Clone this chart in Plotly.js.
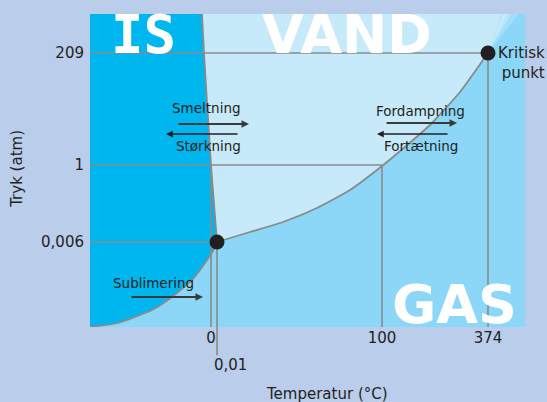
<!DOCTYPE html>
<html><head><meta charset="utf-8">
<script src="https://cdn.plot.ly/plotly-3.0.1.min.js"></script>
<style>html,body{margin:0;padding:0;background:#BACDEA;}#chart{width:547px;height:402px;}</style>
</head><body><div id="chart"></div>
<script>
// Schematic phase diagram of water (not to scale) – positions in schematic units
const tempTickPos = [121, 292, 398];
const tempTickText = ["0", "100", "374"];
const tripleTempText = "0,01";
const pressTickPos = [85, 162, 274];
const pressTickText = ["0,006", "1", "209"];

const tripleX = [127], tripleY = [85];
const criticalX = [398], criticalY = [274];

// smeltekurve (triple point -> top)
const meltX = [127, 121, 114, 112];
const meltY = [85, 162, 274, 313];
// sublimationskurve (origin -> triple point)
const sublX = [0, 28, 62, 82, 102, 115, 125, 127];
const sublY = [0, 4, 17, 30, 47, 64, 80, 85];
// fordampningskurve (triple point -> critical point)
const vapX = [127, 160, 193, 227, 260, 292, 330, 342, 370, 398];
const vapY = [85, 95, 105, 119, 137, 161, 193, 204, 235, 274];
// beyond critical point
const superX = [398, 411];
const superY = [274, 313];

const regionLabels = ["IS", "VAND", "GAS"];
const processLabels = ["Smeltning", "Størkning", "Fordampning", "Fortætning", "Sublimering"];

const XR = [0, 435], YR = [0, 313];
const ink = '#231F20', grey = '#8A8A8A';
const ICE = '#00B6EF', WATER = '#C7EAFA', GAS = '#8CD6F7';

const rev = a => a.slice().reverse();

const traces = [];
// ice region
traces.push({x: [0].concat(rev(meltX), rev(sublX)), y: [YR[1]].concat(rev(meltY), rev(sublY)),
  fill: 'toself', fillcolor: ICE, mode: 'lines', line: {width: 0}, hoverinfo: 'skip', showlegend: false});
// water region
traces.push({x: meltX.concat([superX[1]], rev(superX), rev(vapX)), y: meltY.concat([YR[1]], rev(superY), rev(vapY)),
  fill: 'toself', fillcolor: WATER, mode: 'lines', line: {width: 0}, hoverinfo: 'skip', showlegend: false});
// soft glow beyond the critical point
[[0, 18, 0.2], [0, 10, 0.22], [2, 6, 0.2]].forEach(g => traces.push({x: [superX[0], superX[1] + g[0], superX[1] + g[1]], y: [superY[0], YR[1], YR[1]],
  fill: 'toself', fillcolor: 'rgba(255,255,255,' + g[2] + ')', mode: 'lines', line: {width: 0}, hoverinfo: 'skip', showlegend: false}));

const gl = {color: grey, width: 1.6};
// reference lines: horizontal at pressure ticks
const hEnd = [tripleX[0], tempTickPos[1], criticalX[0]];
pressTickPos.forEach((p, i) => traces.push({x: [XR[0], hEnd[i]], y: [p, p], mode: 'lines', line: gl, hoverinfo: 'skip', showlegend: false}));
// vertical at temperature ticks
const vEnd = [pressTickPos[1], pressTickPos[1], criticalY[0]];
tempTickPos.forEach((t, i) => traces.push({x: [t, t], y: [YR[0], vEnd[i]], mode: 'lines', line: gl, hoverinfo: 'skip', showlegend: false}));
// phase boundaries
[[meltX, meltY], [sublX, sublY], [vapX, vapY]].forEach(c => traces.push({x: c[0], y: c[1], mode: 'lines', line: {color: grey, width: 1.8, shape: 'spline', smoothing: 0.5}, hoverinfo: 'skip', showlegend: false}));
// triple & critical points
traces.push({x: tripleX.concat(criticalX), y: tripleY.concat(criticalY), mode: 'markers', marker: {size: 15, color: ink}, cliponaxis: false, hoverinfo: 'skip', showlegend: false});

const txt = (s, x, y, extra) => Object.assign({text: s, x: x, y: y, xref: 'x', yref: 'y', showarrow: false, font: {family: 'DejaVu Sans', size: 13.5, color: ink}}, extra || {});
const arrow = (x0, x1, y, w, c, sz) => ({x: x1, y: y, ax: x0, ay: y, xref: 'x', yref: 'y', axref: 'x', ayref: 'y', text: '', showarrow: true, arrowhead: 2, arrowsize: sz, arrowwidth: w, arrowcolor: c, standoff: 0, startstandoff: 0});

const big = {family: 'DejaVu Sans', size: 54, color: '#FFFFFF', weight: 'bold'};
const annotations = [
  txt(regionLabels[0], 53, 293, {font: Object.assign({}, big, {family: 'DejaVu Sans Mono'})}),
  txt(regionLabels[1], 257, 293, {font: big}),
  txt(regionLabels[2], 364, 23, {font: big}),
  txt(processLabels[0], 116, 219),
  txt(processLabels[1], 118, 181),
  txt(processLabels[2], 330, 216),
  txt(processLabels[3], 331, 181),
  txt(processLabels[4], 63, 44),
  arrow(87, 159, 203, 2, '#3A3A3A', 0.75),
  arrow(149, 76, 193, 1.5, ink, 0.9),
  arrow(295, 367, 204, 2, '#3A3A3A', 0.75),
  arrow(359, 287, 193, 1.5, ink, 0.9),
  arrow(40, 113, 30, 2, '#3A3A3A', 0.75),
  {text: 'Kritisk<br>punkt', xref: 'paper', yref: 'y', x: 1.05, y: 264, xanchor: 'right', align: 'right', showarrow: false, font: {family: 'DejaVu Sans', size: 15, color: ink}},
  {text: tripleTempText, xref: 'x', yref: 'paper', x: tripleX[0] - 5, y: -0.122, xanchor: 'left', yanchor: 'middle', showarrow: false, font: {family: 'DejaVu Sans', size: 15, color: ink}},
  {text: 'Temperatur (°C)', xref: 'paper', yref: 'paper', x: 0.544, y: -0.215, xanchor: 'center', yanchor: 'middle', showarrow: false, font: {family: 'DejaVu Sans', size: 15, color: ink}},
  {text: 'Tryk (atm)', xref: 'paper', yref: 'paper', x: -0.168, y: 0.505, xanchor: 'center', yanchor: 'middle', textangle: -90, showarrow: false, font: {family: 'DejaVu Sans', size: 15, color: ink}}
];

const shapes = [{type: 'line', xref: 'x', yref: 'paper', x0: tripleX[0], x1: tripleX[0], y0: -0.09, y1: tripleY[0] / YR[1], line: {color: grey, width: 1.6}, layer: 'below'}];

const axBase = {showgrid: false, zeroline: false, showline: false, ticks: '', fixedrange: true, tickfont: {family: 'DejaVu Sans', size: 15, color: ink}};
const layout = {
  width: 547, height: 402,
  margin: {l: 90, r: 22, t: 14, b: 75},
  paper_bgcolor: '#BACDEA', plot_bgcolor: GAS,
  xaxis: Object.assign({}, axBase, {range: XR, tickmode: 'array', tickvals: tempTickPos, ticktext: tempTickText}),
  yaxis: Object.assign({}, axBase, {range: YR, tickmode: 'array', tickvals: pressTickPos, ticktext: pressTickText, ticklabelstandoff: 5}),
  annotations: annotations, shapes: shapes, showlegend: false
};
Plotly.newPlot('chart', traces, layout, {displayModeBar: false, staticPlot: true});
</script></body></html>
